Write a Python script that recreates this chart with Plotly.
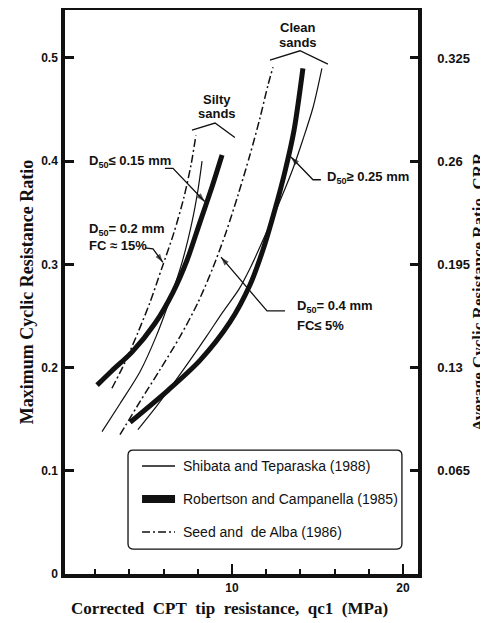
import plotly.graph_objects as go

# ---------------- data ----------------
# Robertson and Campanella (1985) - thick line
rc_silty_x = [2.11, 2.98, 4.15, 5.50, 6.55, 7.37, 8.13, 8.83, 9.42]
rc_silty_y = [0.183, 0.197, 0.215, 0.243, 0.273, 0.304, 0.341, 0.375, 0.406]
rc_clean_x = [4.04, 6.26, 8.13, 9.88, 11.05, 11.81, 12.51, 13.10, 13.63, 14.15]
rc_clean_y = [0.147, 0.178, 0.207, 0.244, 0.280, 0.314, 0.353, 0.390, 0.430, 0.490]

# Shibata and Teparaska (1988) - thin line
st_silty_x = [2.40, 3.45, 4.62, 5.56, 6.37, 7.08, 7.66, 8.01, 8.25]
st_silty_y = [0.138, 0.165, 0.196, 0.230, 0.266, 0.302, 0.341, 0.372, 0.400]
st_clean_x = [4.50, 5.56, 6.55, 7.54, 8.54, 9.47, 10.41, 11.11, 11.64, 12.28, 12.92, 13.57, 14.15, 14.74, 15.26]
st_clean_y = [0.140, 0.162, 0.184, 0.207, 0.231, 0.254, 0.276, 0.298, 0.317, 0.341, 0.366, 0.393, 0.421, 0.452, 0.490]

# Seed and de Alba (1986) - dash-dot line
sd_silty_x = [2.98, 3.74, 4.50, 5.20, 5.91, 6.61, 7.19, 7.60, 7.89]
sd_silty_y = [0.180, 0.205, 0.234, 0.263, 0.297, 0.331, 0.365, 0.396, 0.425]
sd_clean_x = [3.45, 4.62, 5.79, 6.96, 8.01, 8.89, 9.65, 10.35, 11.05, 11.64, 12.11, 12.40]
sd_clean_y = [0.135, 0.167, 0.198, 0.230, 0.263, 0.297, 0.331, 0.367, 0.406, 0.442, 0.474, 0.491]

# group brackets
clean_br_x = [12.22, 13.98, 15.61]
clean_br_y = [0.498, 0.507, 0.494]
silty_br_x = [7.66, 9.01, 10.17]
silty_br_y = [0.430, 0.437, 0.423]

# leader lines (text end -> elbow -> arrow tip)
lead_015_x = [6.08, 6.55, 8.40]
lead_015_y = [0.393, 0.393, 0.361]
lead_fc15_x = [4.91, 5.38, 5.96]
lead_fc15_y = [0.316, 0.315, 0.302]
lead_025_x = [15.20, 14.74, 13.45]
lead_025_y = [0.382, 0.382, 0.404]
lead_04_x = [13.10, 12.05, 9.36]
lead_04_y = [0.255, 0.255, 0.307]

# axes
X_RANGE = [0.234, 20.88]
x_major = [10, 20]
x_major_text = ["10", "20"]
x_minor = [2, 4, 6, 8, 12, 14, 16, 18]
y_left_vals = [0, 0.1, 0.2, 0.3, 0.4, 0.5]
y_left_text = ["0", "0.1", "0.2", "0.3", "0.4", "0.5"]
y_right_vals = [0.065, 0.13, 0.195, 0.26, 0.325]
y_right_text = ["0.065", "0.13", "0.195", "0.26", "0.325"]
Y_MAX = 0.5465
RATIO = 0.65  # average CRR = 0.65 * maximum

x_title = "Corrected&nbsp; CPT&nbsp; tip&nbsp; resistance,&nbsp; qc1&nbsp; (MPa)"
legend_names = ["Shibata and Teparaska (1988)",
                "Robertson and Campanella (1985)",
                "Seed and  de Alba (1986)"]

# ---------------- styles ----------------
INK = "#111111"
SANS = "Liberation Sans, Arial, sans-serif"
SERIF = "Liberation Serif, Times New Roman, serif"
DASHDOT = "8px,3px,2px,3px"

fig = go.Figure()

def curve(x, y, width, dash="solid"):
    fig.add_trace(go.Scatter(x=x, y=y, mode="lines", showlegend=False,
                             hoverinfo="skip",
                             line=dict(color=INK, width=width, dash=dash,
                                       shape="spline", smoothing=0.8)))

curve(st_silty_x, st_silty_y, 1.2)
curve(st_clean_x, st_clean_y, 1.2)
curve(sd_silty_x, sd_silty_y, 1.5, DASHDOT)
curve(sd_clean_x, sd_clean_y, 1.5, DASHDOT)
curve(rc_silty_x, rc_silty_y, 5)
curve(rc_clean_x, rc_clean_y, 5)

for bx, by in [(clean_br_x, clean_br_y), (silty_br_x, silty_br_y)]:
    fig.add_trace(go.Scatter(x=bx, y=by, mode="lines", showlegend=False,
                             hoverinfo="skip",
                             line=dict(color=INK, width=1.3)))

for lx, ly in [(lead_015_x, lead_015_y), (lead_fc15_x, lead_fc15_y),
               (lead_025_x, lead_025_y), (lead_04_x, lead_04_y)]:
    fig.add_trace(go.Scatter(x=lx, y=ly, mode="lines+markers", showlegend=False,
                             hoverinfo="skip",
                             line=dict(color=INK, width=1.3),
                             marker=dict(symbol=["circle", "circle", "arrow"],
                                         size=[0, 0, 9], angleref="previous",
                                         color=INK, line=dict(width=0))))

# invisible trace to activate right axis
fig.add_trace(go.Scatter(x=[None], y=[None], yaxis="y2", showlegend=False,
                         hoverinfo="skip"))

annotations = []

def label(x, y, text, size=13, anchor="left"):
    annotations.append(dict(x=x, y=y, xref="x", yref="y", text=text,
                            showarrow=False, xanchor=anchor, yanchor="middle",
                            font=dict(family=SANS, size=size, color=INK,
                                      weight=700)))

label(13.86, 0.530, "Clean", anchor="center")
label(13.86, 0.515, "sands", anchor="center")
label(9.12, 0.460, "Silty", anchor="center")
label(9.12, 0.446, "sands", anchor="center")
label(1.52, 0.400, "D<sub>50</sub>≤ 0.15 mm")
label(1.52, 0.334, "D<sub>50</sub>= 0.2 mm")
label(1.52, 0.318, "FC ≈ 15%")
label(15.44, 0.384, "D<sub>50</sub>≥ 0.25 mm")
label(13.68, 0.259, "D<sub>50</sub>= 0.4 mm")
label(13.68, 0.241, "FC≤ 5%")

# x-axis title (placed slightly left of centre, as in the original)
annotations.append(dict(x=0.4674, y=-0.062, xref="paper", yref="paper",
                        text=x_title, showarrow=False,
                        xanchor="center", yanchor="middle",
                        font=dict(family=SERIF, size=17, color=INK, weight=700)))

shapes = []

# ---------------- legend box (drawn) ----------------
lx0, lx1, ly0, ly1 = 3.92, 19.94, 0.0242, 0.120
rx, ry = 0.30, 0.0050
shapes.append(dict(type="path", xref="x", yref="y",
                   path=(f"M {lx0+rx},{ly1} L {lx1-rx},{ly1} Q {lx1},{ly1} {lx1},{ly1-ry} "
                         f"L {lx1},{ly0+ry} Q {lx1},{ly0} {lx1-rx},{ly0} "
                         f"L {lx0+rx},{ly0} Q {lx0},{ly0} {lx0},{ly0+ry} "
                         f"L {lx0},{ly1-ry} Q {lx0},{ly1} {lx0+rx},{ly1} Z"),
                   line=dict(color=INK, width=1.3), fillcolor="white"))
leg_y = [0.1047, 0.0727, 0.0407]
leg_styles = [dict(width=1.5, dash="solid"), dict(width=8, dash="solid"),
              dict(width=1.5, dash="8px,3px,2px,3px")]
for yy, st, name in zip(leg_y, leg_styles, legend_names):
    shapes.append(dict(type="line", xref="x", yref="y", x0=4.74, x1=6.67,
                       y0=yy, y1=yy, line=dict(color=INK, **st)))
    annotations.append(dict(x=7.02, y=yy, xref="x", yref="y", text=name,
                            showarrow=False, xanchor="left", yanchor="middle",
                            font=dict(family=SANS, size=14, color=INK)))

# the page body adds an 8px margin at the top-left of the figure, so the
# figure is offset to line up with the 488x623 window
fig.update_layout(
    width=480, height=615,
    margin=dict(l=57, r=70, t=2, b=49, autoexpand=False),
    paper_bgcolor="white", plot_bgcolor="white",
    showlegend=False,
    annotations=annotations, shapes=shapes,
    xaxis=dict(range=X_RANGE, showgrid=False, zeroline=False, automargin=False,
               showline=True, linecolor=INK, linewidth=3.5, mirror=True,
               tickmode="array", tickvals=x_major, ticktext=x_major_text,
               ticks="inside", ticklen=10, tickwidth=2, tickcolor=INK,
               minor=dict(tickmode="array", tickvals=x_minor, ticks="inside",
                          ticklen=5, tickwidth=2, tickcolor=INK),
               tickfont=dict(family=SANS, size=12, color=INK, weight=700)),
    yaxis=dict(range=[0, Y_MAX], showgrid=False, zeroline=False, automargin=False,
               showline=True, linecolor=INK, linewidth=3.5, mirror=True,
               tickmode="array", tickvals=y_left_vals, ticktext=y_left_text,
               ticks="inside", ticklen=9, tickwidth=3, tickcolor=INK,
               ticklabelstandoff=1,
               tickfont=dict(family=SANS, size=12, color=INK, weight=700),
               title=dict(text="Maximum Cyclic Resistance Ratio",
                          font=dict(family=SERIF, size=18, color=INK, weight=700),
                          standoff=4)),
    yaxis2=dict(range=[0, Y_MAX * RATIO], overlaying="y", side="right",
                showgrid=False, zeroline=False, automargin=False,
                showline=True, linecolor=INK, linewidth=3.5,
                tickmode="array", tickvals=y_right_vals, ticktext=y_right_text,
                ticks="inside", ticklen=8, tickwidth=3, tickcolor=INK,
                ticklabelstandoff=13,
                tickfont=dict(family=SANS, size=13, color=INK, weight=700),
                title=dict(text="Average Cyclic Resistance Ratio, CRR",
                           font=dict(family=SERIF, size=17, color=INK, weight=700),
                           standoff=0)),
)

fig.write_html("out.html")
